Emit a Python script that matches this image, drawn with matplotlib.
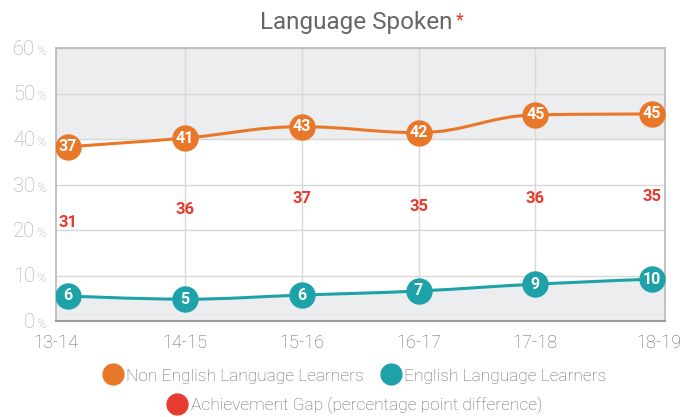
import matplotlib
matplotlib.use("Agg")
import matplotlib.pyplot as plt
from matplotlib.path import Path
from matplotlib.patches import PathPatch
from matplotlib.lines import Line2D
import matplotlib.transforms as mtransforms

plt.rcParams['font.family'] = ['Roboto', 'DejaVu Sans']

# Data
years = ["13-14", "14-15", "15-16", "16-17", "17-18", "18-19"]
non_ell = [38.3, 40.2, 42.7, 41.4, 45.3, 45.5]      # plotted position
non_ell_labels = [37, 41, 43, 42, 45, 45]
ell = [5.5, 4.8, 5.7, 6.6, 8.1, 9.2]
ell_labels = [6, 5, 6, 7, 9, 10]
gap_labels = [31, 36, 37, 35, 36, 35]
gap_pos = [21.7, 24.5, 27.0, 25.1, 27.0, 27.3]

ORANGE = "#E8772A"
TEAL = "#1EA2AA"
RED = "#E63B2E"
BAND = "#ECEDEF"
LIGHT = "light"


# spline like highcharts (smoothing 1.5)
def spline_path(xs, ys):
    n = len(xs)
    left = [(xs[i], ys[i]) for i in range(n)]
    right = [(xs[i], ys[i]) for i in range(n)]
    sm, den = 1.5, 2.5
    for i in range(1, n - 1):
        px, py = xs[i], ys[i]
        lx, ly = xs[i - 1], ys[i - 1]
        nx, ny = xs[i + 1], ys[i + 1]
        lcx = (sm * px + lx) / den
        lcy = (sm * py + ly) / den
        rcx = (sm * px + nx) / den
        rcy = (sm * py + ny) / den
        corr = (rcy - lcy) * (rcx - px) / (rcx - lcx) + py - rcy
        lcy += corr
        rcy += corr
        if lcy > ly and lcy > py:
            lcy = max(ly, py)
            rcy = 2 * py - lcy
        elif lcy < ly and lcy < py:
            lcy = min(ly, py)
            rcy = 2 * py - lcy
        if rcy > ny and rcy > py:
            rcy = max(ny, py)
            lcy = 2 * py - rcy
        elif rcy < ny and rcy < py:
            rcy = min(ny, py)
            lcy = 2 * py - rcy
        left[i] = (lcx, lcy)
        right[i] = (rcx, rcy)
    verts = [(xs[0], ys[0])]
    codes = [Path.MOVETO]
    for i in range(1, n):
        verts += [right[i - 1], left[i], (xs[i], ys[i])]
        codes += [Path.CURVE4] * 3
    return verts, codes


fig = plt.figure(figsize=(6.83, 4.17), dpi=100)
ax = fig.add_axes([56 / 683, 1 - 321 / 417, (665 - 56) / 683, (321 - 48) / 417])

x = list(range(len(years)))
x0, x1 = -0.103, 5.11
ax.set_xlim(x0, x1)
ax.set_ylim(0, 60)

ax.axhspan(40, 60, color=BAND, zorder=0)

# teal area (carried flat to the plot edges)
v, c = spline_path(x, ell)
area_v = v + [(x1, ell[-1]), (x1, 0), (x0, 0), (x0, ell[0]), (x[0], ell[0])]
area_c = c + [Path.LINETO] * 4 + [Path.CLOSEPOLY]
ax.add_patch(PathPatch(Path(area_v, area_c), facecolor=BAND, edgecolor="none", zorder=1))

for vals, labels, col in [(non_ell, non_ell_labels, ORANGE), (ell, ell_labels, TEAL)]:
    v, c = spline_path(x, vals)
    ax.add_patch(PathPatch(Path(v, c), facecolor="none", edgecolor=col, lw=2.2, zorder=3))
    ax.plot(x, vals, "o", color=col, markersize=19, markeredgewidth=0, zorder=4)
    for xi, yi, lab in zip(x, vals, labels):
        ax.text(xi, yi, str(lab), color="white", fontsize=11.5, fontweight="bold",
                ha="center", va="center", zorder=5)

for xi, yi, lab in zip(x, gap_pos, gap_labels):
    ax.text(xi, yi, str(lab), color=RED, fontsize=12, fontweight="bold",
            ha="center", va="center", zorder=5)

# grid and frame
ax.set_yticks(range(0, 61, 10))
ax.set_xticks([x0, 1, 2, 3, 4, x1])
ax.grid(True, axis="y", color="#D8D8D8", lw=1, zorder=0.5)
for xi in [1, 2, 3, 4]:
    ax.axvline(xi, color="#D8D8D8", lw=1, zorder=0.5)
ax.set_axisbelow(True)
for s in ["top", "right", "left"]:
    ax.spines[s].set_color("#B8B8B8")
    ax.spines[s].set_linewidth(1.2)
ax.spines["bottom"].set_color("#999999")
ax.spines["bottom"].set_linewidth(1.5)
ax.tick_params(length=0)
ax.set_xticklabels(years, color="#666666", fontsize=13, fontweight=LIGHT)
ax.tick_params(axis="x", pad=9)
ax.set_yticklabels([])
# keep last label inside the figure
last = ax.get_xticklabels()[-1]
last.set_transform(last.get_transform() + mtransforms.ScaledTranslation(-6 / 100, 0, fig.dpi_scale_trans))

# y labels with small %
trans = mtransforms.blended_transform_factory(ax.transAxes, ax.transData)
for val in range(0, 61, 10):
    off = mtransforms.offset_copy(trans, fig=fig, x=-21, y=-7, units="dots")
    ax.text(0, val, str(val), transform=off, ha="right", va="baseline",
            color="#A8A8A8", fontsize=14.5, fontweight=LIGHT)
    off2 = mtransforms.offset_copy(trans, fig=fig, x=-20, y=-7, units="dots")
    ax.text(0, val, "%", transform=off2, ha="left", va="baseline",
            color="#A8A8A8", fontsize=9.5, fontweight=LIGHT)

# title
fig.text(0.521, 0.945, "Language Spoken", ha="center", va="center",
         color="#666666", fontsize=17.5)
fig.text(0.668, 0.952, "*", ha="left", va="center", color=RED, fontsize=13)

# legend
h1 = Line2D([], [], marker="o", ls="", color=ORANGE, markersize=15)
h2 = Line2D([], [], marker="o", ls="", color=TEAL, markersize=15)
h3 = Line2D([], [], marker="o", ls="", color=RED, markersize=15)
kw = dict(frameon=False, handletextpad=0.15, labelcolor="#666666",
          handlelength=1.2, prop=dict(family=['Roboto', 'DejaVu Sans'], size=12.5, weight=LIGHT))
fig.legend([h1, h2], ["Non English Language Learners", "English Language Learners"],
           loc="center", bbox_to_anchor=(0.519, 1 - 376 / 417), ncol=2, columnspacing=1.0, **kw)
fig.legend([h3], ["Achievement Gap (percentage point difference)"],
           loc="center", bbox_to_anchor=(0.519, 1 - 405 / 417), **kw)

fig.savefig("out.png", dpi=100)
